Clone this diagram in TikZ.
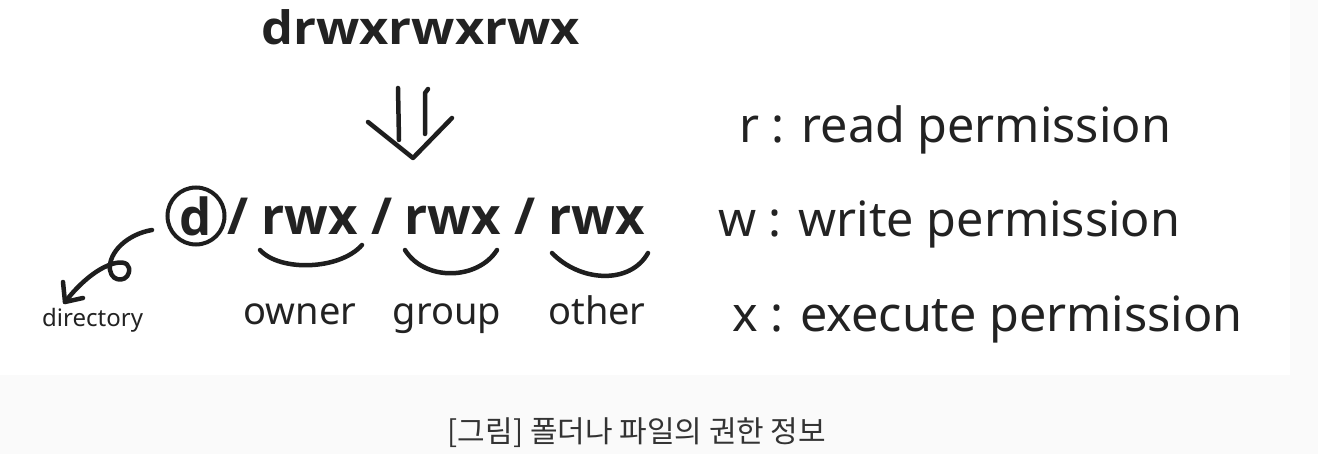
\documentclass[tikz,border=0pt]{standalone}
\usepackage{fontspec}
\setmainfont{Noto Sans}
\newfontfamily\heavyfont{Open Sans}
\newfontfamily\wideheavy{Open Sans}[FakeStretch=1.1]
\newfontfamily\krfont{Noto Sans CJK KR}
\usetikzlibrary{positioning}
\definecolor{inkcol}{HTML}{1E1E1E}
\definecolor{textcol}{HTML}{222222}
\definecolor{pagegray}{HTML}{FAFAFA}
\definecolor{captcol}{HTML}{333333}
\tikzset{
  titletext/.style={inner sep=0pt, anchor=base west, text=textcol,
    font=\wideheavy\fontsize{46}{52}\selectfont\bfseries},
  permtext/.style={inner sep=0pt, anchor=base west, text=textcol,
    font=\heavyfont\fontsize{51}{56}\selectfont\bfseries},
  roletext/.style={inner sep=0pt, anchor=base, text=textcol,
    font=\fontsize{38}{44}\selectfont},
  legendtext/.style={inner sep=0pt, anchor=base west, text=textcol,
    font=\fontsize{48.5}{54}\selectfont},
  smalltext/.style={inner sep=0pt, anchor=base west, text=textcol,
    font=\fontsize{24}{28}\selectfont},
  ring/.style={circle, draw=inkcol, line width=4pt, minimum size=57pt,
    inner sep=0pt, text=textcol, font=\heavyfont\fontsize{51}{56}\selectfont\bfseries},
  pen/.style={draw=inkcol, line width=4.5pt, line cap=round, line join=round}
}

\begin{document}
\begin{tikzpicture}[x=1pt, y=-1pt]
  \fill[pagegray] (0,0) rectangle (1318,454);
  \fill[white] (0,0) rectangle (1290,375);
  \useasboundingbox (0,0) rectangle (1318,454);

  % full permission string
  \node[titletext] (title) at (261,45) {drwxrwxrwx};

  % split permission string
  \node[ring] (dbit) at (196,216) {d};
  \node[permtext] (slasha) at (227,235) {/};
  \node[permtext] (rwxa) at (261,235) {rwx};
  \node[permtext] (slashb) at (371,235) {/};
  \node[permtext] (rwxb) at (404,235) {rwx};
  \node[permtext] (slashc) at (514,235) {/};
  \node[permtext] (rwxc) at (548,235) {rwx};

  \node[roletext] (owner) at (300,325) {owner};
  \node[roletext] (group) at (447,325) {group};
  \node[roletext] (other) at (597,325) {other};
  \node[smalltext] (dir) at (42,327) {directory};

  % legend
  \node[legendtext] (rlegend) at (739,143) {r : read permission};
  \node[legendtext] (wlegend) at (718,237) {w : write permission};
  \node[legendtext] (xlegend) at (732,332) {x : execute permission};

  % hand drawn arrow between the two strings
  \draw[pen] (398,88) -- (399,140);
  \draw[pen] (428,89) -- (425,93) -- (425,134);
  \draw[pen] (368,122) -- (413,158) -- (452,118);

  % brackets under the groups
  \draw[pen] (260,250) .. controls (280,272) and (340,270) .. (362,245);
  \draw[pen] (405,250) .. controls (425,282) and (478,280) .. (497,250);
  \draw[pen] (552,253) .. controls (580,282) and (630,285) .. (648,253);

  % curly arrow to directory
  \coordinate (curlstart) at (152,230);
  \coordinate (curltip) at (65,302);
  \draw[pen] (curlstart) .. controls (128,234) and (108,252) .. (110,270)
    .. controls (112,284) and (131,282) .. (129,268)
    .. controls (127,256) and (96,262) .. (curltip);
  \draw[pen] (63,282) -- (curltip) -- (83,298);

  % caption
  \node[inner sep=0pt, text=captcol, font=\krfont\fontsize{30}{36}\selectfont]
    (caption) at (637,433) {[그림] 폴더나 파일의 권한 정보};
\end{tikzpicture}
\end{document}
